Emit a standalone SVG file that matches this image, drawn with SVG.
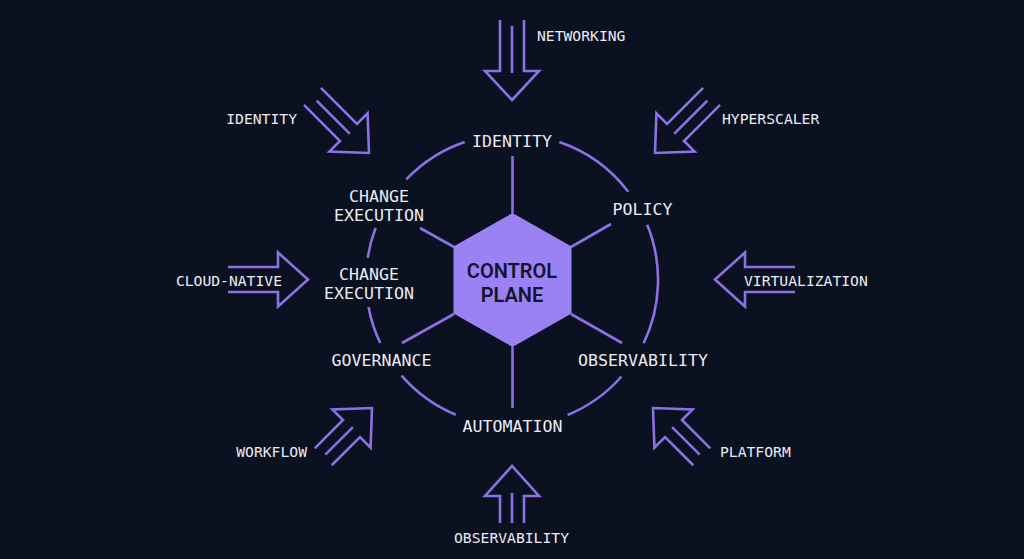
<svg xmlns="http://www.w3.org/2000/svg" xmlns:xlink="http://www.w3.org/1999/xlink" width="1024" height="559" viewBox="0 0 1024 559">
<style>
.ln{fill:none;stroke:#8c70e4;stroke-width:2.6;stroke-linecap:butt;stroke-linejoin:miter}
.ring{font-family:"DejaVu Sans Mono","Liberation Mono",monospace;font-size:16.6px;fill:#ecebf3;text-anchor:middle}
.out{font-family:"DejaVu Sans Mono","Liberation Mono",monospace;font-size:14.7px;fill:#ecebf3}
.core{font-family:Roboto,"Liberation Sans",sans-serif;font-weight:600;font-size:20px;fill:#15142e;text-anchor:middle}
</style>
<defs>
<g id="arrLong"><path class="ln" d="M-80,-12 H-29 V-27 L0,0 L-29,27 V12 H-80"/><path class="ln" d="M-74,0 H-27"/></g>
<g id="arrPlain"><path class="ln" d="M-80,-12.5 H-30 V-27 L0,0 L-30,27 V12.5 H-80"/></g>
<g id="arrMid"><path class="ln" d="M-69,-12 H-29 V-27 L0,0 L-29,27 V12 H-69"/><path class="ln" d="M-66,0 H-27"/></g>
<g id="arrShort"><path class="ln" d="M-57,-12 H-30 V-27 L0,0 L-30,27 V12 H-57"/><path class="ln" d="M-57,0 H-27"/></g>
</defs>
<rect width="1024" height="559" fill="#0a1120"/>
<g id="connectors">
<path class="ln" d="M464.7,141.9 A146,146 0 0 0 406.3,179.3"/>
<path class="ln" d="M559.3,141.9 A146,146 0 0 1 628.3,191.7"/>
<path class="ln" d="M647.2,224.8 A146,146 0 0 1 643.6,343.3"/>
<path class="ln" d="M621.5,376.5 A146,146 0 0 1 567.6,415"/>
<path class="ln" d="M455.7,414.7 A146,146 0 0 1 401.6,375.6"/>
<path class="ln" d="M380.2,342.9 A146,146 0 0 1 368.5,306.9"/>
<path class="ln" d="M367.7,257.9 A146,146 0 0 1 375.6,227.9"/>
<path class="ln" d="M512.5,213 V156"/>
<path class="ln" d="M454,247 L420,228"/>
<path class="ln" d="M571,247 L611,224"/>
<path class="ln" d="M454,314 L402,343"/>
<path class="ln" d="M571,314 L622,343"/>
<path class="ln" d="M512.5,347 V408"/>
<use href="#arrLong" transform="translate(512,100) rotate(90)"/>
<use href="#arrShort" transform="translate(512,466) rotate(-90)"/>
<use href="#arrPlain" transform="translate(308,279.5)"/>
<use href="#arrPlain" transform="translate(715,279.5) rotate(180)"/>
<use href="#arrLong" transform="translate(369,153) rotate(45)"/>
<use href="#arrLong" transform="translate(655,153) rotate(135)"/>
<use href="#arrMid" transform="translate(372,408) rotate(-45)"/>
<use href="#arrMid" transform="translate(653,408) rotate(-135)"/>
</g>
<g id="control-plane">
<polygon points="512.5,213 571.5,246.5 571.5,313.5 512.5,347 453.5,313.5 453.5,246.5" fill="#9b82f3"/>
<text class="core" x="512" y="278">CONTROL</text>
<text class="core" x="512" y="302">PLANE</text>
</g>
<g id="ring-identity"><text class="ring" x="512" y="147">IDENTITY</text></g>
<g id="ring-change-execution-1"><text class="ring" x="379" y="202">CHANGE</text><text class="ring" x="379" y="221">EXECUTION</text></g>
<g id="ring-change-execution-2"><text class="ring" x="369" y="280">CHANGE</text><text class="ring" x="369" y="299">EXECUTION</text></g>
<g id="ring-governance"><text class="ring" x="381.5" y="366">GOVERNANCE</text></g>
<g id="ring-policy"><text class="ring" x="642.5" y="215">POLICY</text></g>
<g id="ring-observability"><text class="ring" x="643" y="366">OBSERVABILITY</text></g>
<g id="ring-automation"><text class="ring" x="512.5" y="432">AUTOMATION</text></g>
<g id="in-networking"><text class="out" x="537" y="40.5">NETWORKING</text></g>
<g id="in-identity"><text class="out" x="297" y="124" text-anchor="end">IDENTITY</text></g>
<g id="in-hyperscaler"><text class="out" x="722" y="123.5">HYPERSCALER</text></g>
<g id="in-cloud-native"><text class="out" x="282" y="286" text-anchor="end">CLOUD-NATIVE</text></g>
<g id="in-virtualization"><text class="out" x="744" y="286">VIRTUALIZATION</text></g>
<g id="in-workflow"><text class="out" x="307" y="457" text-anchor="end">WORKFLOW</text></g>
<g id="in-platform"><text class="out" x="720" y="457">PLATFORM</text></g>
<g id="in-observability"><text class="out" x="511.5" y="543" text-anchor="middle">OBSERVABILITY</text></g>
</svg>
